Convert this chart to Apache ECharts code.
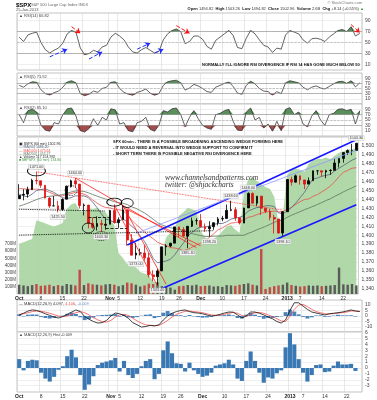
<!DOCTYPE html>
<html>
<head>
<meta charset="utf-8">
<script src="https://cdn.jsdelivr.net/npm/echarts@6/dist/echarts.min.js"></script>
<style>
html, body { margin: 0; padding: 0; background: #fff; }
#chart { width: 377px; height: 400px; }
</style>
</head>
<body>
<div id="chart"></div>
<script>
// trading days, 1 Oct 2012 .. 25 Jan 2013 (one point per session)
const dates = ['10/1','10/2','10/3','10/4','10/5','10/8','10/9','10/10','10/11','10/12',
  '10/15','10/16','10/17','10/18','10/19','10/22','10/23','10/24','10/25','10/26',
  '10/31','11/1','11/2','11/5','11/6','11/7','11/8','11/9','11/12','11/13',
  '11/14','11/15','11/16','11/19','11/20','11/21','11/23','11/26','11/27','11/28',
  '11/29','11/30','12/3','12/4','12/5','12/6','12/7','12/10','12/11','12/12',
  '12/13','12/14','12/17','12/18','12/19','12/20','12/21','12/24','12/26','12/27',
  '12/28','12/31','1/2','1/3','1/4','1/7','1/8','1/9','1/10','1/11',
  '1/14','1/15','1/16','1/17','1/18','1/22','1/23','1/24','1/25'];

const tickIdx  = [0, 5, 10, 15, 21, 23, 28, 33, 37, 42, 47, 52, 57, 62, 65, 70, 75];
const tickText = ['Oct','8','15','22','Nov','5','12','19','26','Dec','10','17','24','2013','7','14','22'];

const open = [1440.9,1445.0,1446.0,1451.1,1461.4,1460.9,1455.9,1441.5,1432.8,1432.8,
  1428.8,1440.3,1454.2,1460.9,1457.2,1433.2,1433.7,1413.2,1409.7,1413.0,
  1411.0,1412.2,1427.6,1414.0,1417.3,1428.3,1394.5,1377.6,1379.9,1380.0,
  1374.6,1355.4,1353.4,1359.9,1386.8,1387.8,1391.0,1409.2,1406.3,1398.8,
  1410.0,1416.2,1416.3,1409.5,1407.1,1409.4,1414.0,1418.1,1418.6,1427.8,
  1428.5,1419.5,1413.5,1430.5,1446.8,1435.8,1443.7,1430.2,1426.7,1419.8,
  1418.1,1402.4,1426.2,1462.4,1459.4,1466.5,1461.9,1457.2,1461.0,1472.1,
  1472.1,1470.7,1472.3,1472.6,1481.0,1486.0,1492.6,1494.8,1494.8];
const close = [1444.5,1445.8,1451.0,1461.4,1460.9,1455.9,1441.5,1432.6,1432.8,1428.6,
  1440.1,1454.9,1460.9,1457.3,1433.2,1433.8,1413.1,1408.8,1413.0,1411.9,
  1412.2,1427.6,1414.2,1417.3,1428.4,1394.5,1377.5,1379.9,1380.0,1374.5,
  1355.5,1353.3,1359.9,1386.9,1387.8,1391.0,1409.2,1406.3,1398.9,1409.9,
  1416.0,1416.2,1409.5,1407.1,1409.3,1413.9,1418.1,1418.6,1427.8,1428.5,
  1419.5,1413.6,1430.4,1446.8,1435.8,1443.7,1430.2,1426.7,1419.8,1418.1,
  1402.4,1426.2,1462.4,1459.4,1466.5,1461.9,1457.2,1461.0,1472.1,1472.1,
  1470.7,1472.3,1472.6,1480.9,1486.0,1492.6,1494.8,1494.8,1503.0];
const low = [1440.9,1439.0,1442.0,1451.0,1456.9,1453.1,1441.2,1430.6,1432.8,1425.5,
  1427.2,1440.3,1453.4,1452.6,1429.9,1422.1,1407.6,1407.1,1405.1,1403.3,
  1406.0,1412.2,1412.9,1408.1,1417.3,1388.1,1377.5,1373.0,1377.2,1371.4,
  1352.5,1348.1,1343.4,1359.9,1377.0,1386.4,1391.0,1397.7,1398.0,1385.4,
  1409.0,1411.6,1408.5,1403.7,1398.2,1405.9,1410.9,1415.6,1418.6,1426.8,
  1416.0,1411.9,1413.5,1430.5,1435.8,1432.8,1422.6,1424.7,1416.4,1401.8,
  1401.6,1398.1,1426.2,1455.5,1459.0,1456.6,1451.6,1457.2,1461.0,1467.6,
  1465.7,1463.8,1467.6,1472.6,1475.8,1481.2,1489.9,1489.5,1494.8];
const high = [1457.1,1451.5,1454.3,1463.1,1471.0,1460.9,1455.9,1442.5,1443.9,1438.4,
  1441.3,1455.5,1462.2,1464.0,1457.2,1435.5,1433.7,1420.0,1421.1,1417.1,
  1418.8,1428.4,1434.3,1419.9,1433.4,1428.3,1401.2,1391.4,1384.9,1388.8,
  1380.1,1360.6,1362.0,1386.9,1389.8,1391.3,1409.2,1409.2,1409.0,1410.0,
  1419.7,1418.9,1423.7,1413.1,1415.6,1414.0,1420.3,1421.6,1434.3,1438.6,
  1431.4,1419.5,1430.7,1448.0,1447.8,1443.7,1443.7,1430.2,1429.4,1422.8,
  1418.1,1426.7,1462.4,1465.5,1467.9,1466.5,1461.9,1464.7,1472.3,1472.8,
  1472.1,1473.3,1474.0,1485.2,1486.0,1492.6,1496.1,1502.3,1503.3];

const ma50 = [1446,1444,1443,1446,1450,1451,1452,1450,1448,1445,
  1442,1441,1442,1444,1444,1444,1442,1437,1431,1424,
  1418,1417,1414,1415,1418,1415,1410,1406,1399,1393,
  1384,1374,1369,1370,1371,1373,1378,1385,1391,1399,
  1403,1407,1409,1409,1410,1412,1413,1413,1415,1418,
  1419,1420,1422,1427,1429,1431,1431,1433,1433,1432,
  1425,1424,1427,1431,1436,1442,1448,1456,1463,1464,
  1466,1467,1468,1472,1475,1478,1481,1484,1486.2];
const ma100 = [1452,1452,1451.5,1451.5,1451.5,1451,1450,1448,1446,1444,
  1444,1445.5,1446.5,1448,1447,1446,1443.5,1439.5,1436,1433,
  1431,1430.5,1429,1428.5,1427.5,1423,1417,1412,1408,1403.5,
  1399.5,1396,1392,1390,1388.5,1386,1385.5,1384.5,1382.5,1384,
  1386.5,1389,1391,1393.5,1397.5,1401.5,1406,1408,1411,1413.5,
  1414,1415,1417,1420,1421,1423,1424.5,1426,1426.5,1427,
  1426,1426.5,1429,1431,1434.5,1437.5,1440,1440.5,1443.5,1445.5,
  1448.5,1451.5,1455,1460,1465.5,1470.5,1472.5,1475,1475.6];
const ma200 = [1432.5,1434,1435.8,1437.8,1439.8,1441.5,1443,1443.5,1444,1444.5,
  1445.5,1446.8,1448.3,1449.5,1449.5,1449,1447.5,1445.5,1443.8,1442,
  1440.5,1439.3,1437.5,1436.3,1435.8,1434.3,1431.8,1430,1427.5,1424.8,
  1421.5,1417.8,1414,1411.5,1409.8,1408.3,1407.3,1406.5,1405,1403.5,
  1401.8,1400.5,1399.5,1398.5,1398.5,1398.8,1399,1399,1399.8,1399.8,
  1399.8,1399.8,1399.8,1402,1403.8,1406,1407.8,1409.8,1412,1414.3,
  1416,1417.3,1420,1422.3,1424.3,1426.3,1428.5,1430.3,1432.3,1434.3,
  1436.5,1438.8,1440.8,1443.5,1445.8,1448.5,1450.8,1453,1455.3];

// green overlay behind price (own hidden scale, 0..100)
const breadth = [32,33,34,35,47,46,45,44,43,44,
  45,54,57,58,53,52,55,54,55,53,
  52,48,44,26,23,19,18,17,14,13,
  12,8,7,26,36,39,42,50,52,55,
  54,53,40,36,34,35,37,40,43,44,
  41,39,65,73,74,72,70,68,67,62,
  45,50,76,79,80,79,78,83,85,86,
  86,87,86,88,90,91,92,92,93];

// volume, millions
const volume = [130,120,110,125,140,115,120,130,110,125,
  115,140,130,120,340,125,150,135,130,120,
  135,140,130,110,125,160,150,130,105,120,
  145,140,165,110,105,90,60,110,115,125,
  120,130,110,115,120,105,110,100,125,120,
  115,130,140,150,130,120,630,70,95,110,
  120,130,160,125,115,105,110,120,115,120,
  110,115,120,125,370,135,130,140,120];

const rsi14 = [60,52,64,67,69,50,37,31,36,40,
  49,66,72,69,40,28,30,36,33,42,
  45,60,67,62,55,42,33,31,37,41,
  36,31,34,55,66,72,75,70,48,52,
  62,62,56,43,38,54,60,66,72,63,
  41,39,58,72,66,55,45,42,32,40,
  38,64,72,69,66,55,49,57,58,56,
  52,60,66,72,74,70,79,62,66.8];
const rsi5 = [62,55,68,76,74,45,30,25,34,40,
  55,75,80,72,30,22,28,40,35,50,
  55,74,76,50,35,28,24,35,40,48,
  32,24,30,62,76,80,82,72,44,52,
  66,60,50,38,35,55,62,70,75,58,
  32,28,62,78,68,50,40,38,25,38,
  30,72,80,76,72,55,45,55,60,52,
  48,58,68,76,78,70,80,56,71.9];
const rsi2 = [70,40,85,90,80,30,12,8,40,35,
  70,92,95,65,10,5,18,55,30,60,
  50,92,88,35,40,10,6,40,45,60,
  15,8,30,85,80,92,95,70,25,60,
  85,55,30,20,15,70,75,85,90,45,
  12,10,80,95,50,60,20,35,8,45,
  10,90,96,70,80,35,25,65,85,50,
  30,70,75,90,92,85,90,35,85.1];

const macd = [0.9,2.5,4.5,5.5,5,3.6,2,0.5,-1,-1.8,
  -0.5,1.5,3.5,5.5,4,-0.5,-3,-5,-6.4,-6,
  -4,0,2.7,2,0.5,-2,-6,-8,-10,-9.5,
  -8.5,-9,-8,-3.6,0,2.5,4,5,5.5,4,
  3,2.7,2,0.9,0,0.5,1.5,2.7,3.6,3.5,
  1,-1.8,0,3.6,3.6,2.5,1,-1,-2.5,-5,
  -6.4,-3.6,5,12,12,9,6,3.6,2.7,1.8,
  0.9,2,2.5,3,3.6,4.5,5.5,4.5,4.097];
const signal = [1.5,2,3,4,4.5,4.3,3.5,2.5,1.2,0,
  -0.5,0,1.5,3,4,3,1,-1.5,-3.5,-5,
  -5.5,-4,-1,1,1.5,0.5,-2,-4.5,-6.5,-8,
  -8.5,-8.7,-8.5,-6.5,-4,-1,1.5,3,4.2,4.5,
  4,3.5,3,2,1,0.6,0.8,1.5,2.5,3.2,
  2.5,0.5,-0.5,1.5,3,3.2,2.5,1,-0.5,-2.5,
  -4.5,-5,-0.5,6,10,10.5,8.5,6,4,3,
  2,1.8,2.2,2.6,3,3.6,4.5,4.6,4.106];
const hist = [1.5,-0.4,1.2,1.4,1.3,-0.8,-1.8,-2.3,-1.5,-0.3,
  0.3,2.0,3.1,1.8,-1.2,-3.7,-2.8,-1.4,0.5,0.9,
  1.1,1.3,1.7,-0.6,1.2,-1.2,-1.7,-1.0,0.3,1.2,
  1.5,-1.9,-1.0,3.0,4.5,2.5,0.8,0.7,-0.6,0.9,
  -0.4,-1.0,-1.5,-1.3,-0.8,0.4,0.6,0.8,1.4,0.6,
  -1.8,-2.2,1.2,2.8,1.2,-0.8,-2.5,-1.6,-1.8,-0.9,
  -0.4,3.5,5.9,4.0,1.5,-0.8,-2.3,-1.2,0.5,0.6,
  -0.7,-0.6,0.4,1.1,0.6,0.6,0.7,-0.5,-0.009];

const rsiTicks = [10, 30, 50, 70, 90];
const priceTicks = [1340,1350,1360,1370,1380,1390,1400,1410,1420,1430,1440,1450,1460,1470,1480,1490,1500];
const volTicks = [100, 200, 300, 400, 500, 600, 700];
const macdTicks = [-10, -5, 0, 5, 10];
const histTicks = [-3, -2, -1, 0, 1, 2, 3, 4, 5, 6];

const FONT = '"Liberation Sans", Arial, sans-serif';
const chart = echarts.init(document.getElementById('chart'));

const L = 17, W = 345;
const grids = [
  { top: 13, height: 57 },
  { top: 73, height: 31 },
  { top: 104, height: 32 },
  { top: 137, height: 157 },
  { top: 300, height: 32 },
  { top: 332, height: 60 }
].map(g => Object.assign({ left: L, width: W, show: true, backgroundColor: '#fff', borderColor: '#9a9a9a', borderWidth: 0.6 }, g));

const isWeek = idx => tickIdx.indexOf(idx) >= 0;
const xAxes = grids.map((g, i) => ({
  type: 'category', gridIndex: i, data: dates, boundaryGap: true,
  axisLine: { show: false }, axisTick: { show: false },
  axisLabel: {
    show: i === 3 || i === 5, interval: isWeek, margin: 2, fontSize: 5, color: '#333', fontFamily: FONT,
    formatter: (v, idx) => {
      const k = tickIdx.indexOf(idx);
      if (k < 0) return '';
      const t = tickText[k];
      return /[a-z]|2013/i.test(t) ? '{b|' + t + '}' : t;
    },
    rich: { b: { fontWeight: 'bold', fontSize: 5, fontFamily: FONT, color: '#222' } }
  },
  splitLine: { show: true, interval: isWeek, lineStyle: { color: '#d8d8d8', width: 0.6 } }
}));

function yAx(grid, min, max, ticks, extra) {
  return Object.assign({
    type: 'value', gridIndex: grid, min: min, max: max, position: 'right',
    axisLine: { show: false },
    axisTick: { show: false, customValues: ticks },
    axisLabel: { customValues: ticks, fontSize: 5, color: '#444', margin: 3, fontFamily: FONT },
    splitLine: { show: true, lineStyle: { color: '#e4e4e4', width: 0.6 } }
  }, extra || {});
}

const base = { type: 'line', showSymbol: false, silent: true, animation: false };

function rsiSeries(ax, vals, extraLines) {
  const refLines = [
    { yAxis: 70, lineStyle: { color: '#8c8c8c', width: 0.6, type: 'solid' } },
    { yAxis: 30, lineStyle: { color: '#8c8c8c', width: 0.6, type: 'solid' } },
    { yAxis: 50, lineStyle: { color: '#a8a8a8', width: 0.6, type: 'dashed' } }
  ];
  return [
    Object.assign({}, base, { xAxisIndex: ax, yAxisIndex: ax, z: 2,
      data: vals.map(v => Math.max(v, 70)), lineStyle: { width: 0 },
      areaStyle: { origin: 70, color: '#5a8e5a', opacity: 1 } }),
    Object.assign({}, base, { xAxisIndex: ax, yAxisIndex: ax, z: 2,
      data: vals.map(v => Math.min(v, 30)), lineStyle: { width: 0 },
      areaStyle: { origin: 30, color: '#a44c4c', opacity: 1 } }),
    Object.assign({}, base, { xAxisIndex: ax, yAxisIndex: ax, z: 3,
      data: vals, lineStyle: { color: '#3a3a3a', width: 0.8 },
      markLine: { silent: true, symbol: 'none', label: { show: false }, animation: false,
        data: refLines.concat(extraLines || []) } })
  ];
}

function arrow(a, b, color) {
  return [
    { coord: a, symbol: 'none', lineStyle: { color: color, width: 1, type: 'dashed' } },
    { coord: b, symbol: 'arrow', symbolSize: 5 }
  ];
}
function seg(a, b, color, width, type) {
  return [{ coord: a, lineStyle: { color: color, width: width, type: type } }, { coord: b }];
}

const rsiArrows = [
  arrow([7, 24], [11, 38], '#1f2bff'),
  arrow([16, 20], [19, 33], '#1f2bff'),
  arrow([27, 38], [30, 49], '#1f2bff'),
  arrow([31, 31], [33, 38], '#1f2bff'),
  arrow([12, 79], [14, 67], '#ff1010'),
  arrow([36, 81], [39, 67], '#ff1010'),
  arrow([76, 83], [78, 68], '#ff1010')
];

const priceLines = [
  seg([4, 1471], [61, 1428], '#ff2020', 0.8, 'dotted'),
  seg([13, 1464], [41, 1386], '#ff2020', 0.8, 'solid'),
  seg([22, 1434], [32, 1343], '#ff2020', 0.8, 'solid'),
  seg([24, 1433], [34, 1345], '#ff2020', 0.8, 'solid'),
  seg([24, 1431], [42, 1388], '#ff2020', 0.8, 'solid'),
  seg([25, 1389], [78, 1507], '#1818ff', 1.6, 'solid'),
  seg([32, 1338], [78, 1434], '#1818ff', 1.6, 'solid'),
  seg([27, 1402], [78, 1495], '#8f98ff', 0.8, 'solid'),
  seg([0, 1429], [20, 1427], '#000', 0.9, 'dotted'),
  seg([0, 1400], [45, 1405], '#000', 0.9, 'dotted'),
  seg([16, 1420], [21, 1420], '#000', 0.8, 'dashed'),
  seg([20, 1408], [25, 1408], '#000', 0.8, 'dashed')
];

function ellipse(c, size, dashed) {
  return { coord: c, symbol: 'circle', symbolSize: size, label: { show: false },
    itemStyle: { color: 'rgba(0,0,0,0)', borderColor: '#000', borderWidth: 0.8, borderType: dashed ? 'dotted' : 'solid' } };
}
function tag(i, v, pos) {
  return { coord: [i, v], value: v.toFixed(2), symbol: 'rect', symbolSize: 1,
    itemStyle: { color: 'rgba(0,0,0,0)' },
    label: { show: true, position: pos, distance: 2, formatter: '{c}', fontSize: 3.8, fontFamily: FONT, color: '#444',
      backgroundColor: '#f4f4f4', borderColor: '#bbb', borderWidth: 0.4, padding: [0.3, 0.8] } };
}
const pricePoints = [
  ellipse([4, 1472], [18, 10]), ellipse([12, 1450], [12, 10], true),
  ellipse([22, 1437], [15, 8]), ellipse([25, 1436], [12, 9]),
  ellipse([16, 1408], [12, 10]), ellipse([19, 1399], [14, 9], true),
  tag(4, high[4], 'top'), tag(13, high[13], 'top'), tag(9, low[9], 'bottom'),
  tag(19, low[19], 'bottom'), tag(27, low[27], 'bottom'), tag(32, low[32], 'bottom'),
  tag(39, low[39], 'bottom'), tag(44, low[44], 'bottom'), tag(49, high[49], 'top'),
  tag(53, high[53], 'top'), tag(61, low[61], 'bottom'), tag(78, high[78], 'top')
];

const series = []
  .concat(rsiSeries(0, rsi14, rsiArrows))
  .concat(rsiSeries(1, rsi5))
  .concat(rsiSeries(2, rsi2))
  .concat([
    Object.assign({}, base, { xAxisIndex: 3, yAxisIndex: 5, z: 1, data: breadth,
      lineStyle: { width: 0 }, areaStyle: { color: '#a9d4a0', opacity: 0.9 } }),
    { type: 'bar', xAxisIndex: 3, yAxisIndex: 4, data: volume, barWidth: 2.4, silent: true, z: 2,
      itemStyle: { color: p => close[p.dataIndex] >= open[p.dataIndex] ? '#5a5a5a' : '#c24a4a' } },
    Object.assign({}, base, { xAxisIndex: 3, yAxisIndex: 3, z: 3, data: ma200, lineStyle: { color: '#5f7560', width: 0.8 } }),
    Object.assign({}, base, { xAxisIndex: 3, yAxisIndex: 3, z: 3, data: ma100, lineStyle: { color: '#e8504a', width: 0.8 } }),
    Object.assign({}, base, { xAxisIndex: 3, yAxisIndex: 3, z: 3, data: ma50, lineStyle: { color: '#56627e', width: 0.8 } }),
    { type: 'candlestick', xAxisIndex: 3, yAxisIndex: 3, z: 4, silent: true, barWidth: 2.2,
      data: open.map((o, i) => [o, close[i], low[i], high[i]]),
      itemStyle: { color: '#000', color0: '#e01414', borderColor: '#000', borderColor0: '#e01414', borderWidth: 0.8 },
      markLine: { silent: true, symbol: 'none', label: { show: false }, animation: false, data: priceLines },
      markPoint: { silent: true, animation: false, data: pricePoints } },
    { type: 'bar', xAxisIndex: 4, yAxisIndex: 6, data: hist, barCategoryGap: '10%', silent: true, z: 2, itemStyle: { color: '#4a82bb' } },
    Object.assign({}, base, { xAxisIndex: 4, yAxisIndex: 6, z: 3, data: signal, lineStyle: { color: '#f05050', width: 0.8 } }),
    Object.assign({}, base, { xAxisIndex: 4, yAxisIndex: 6, z: 4, data: macd, lineStyle: { color: '#111', width: 0.8 } }),
    { type: 'bar', xAxisIndex: 5, yAxisIndex: 7, data: hist, barCategoryGap: '6%', silent: true, itemStyle: { color: '#3a78b3' } }
  ]);

function txt(x, y, text, size, fill, extra) {
  return { type: 'text', x: x, y: y, silent: true, z: 100,
    style: Object.assign({ text: text, fontSize: size, fontFamily: FONT, fill: fill, verticalAlign: 'middle', align: 'left' }, extra || {}) };
}
const bold = { fontWeight: 'bold' };
const graphics = [
  txt(16, 5, '$SPX', 6, '#000', bold),
  txt(31, 5, 'S&P 500 Large Cap Index INDX', 4, '#666'),
  txt(16, 9.5, '25-Jan-2013', 4, '#555'),
  txt(362, 3, '\u00a9 StockCharts.com', 4, '#777', { align: 'right' }),
  txt(364, 9, '{b|Open} 1494.82  {b|High} 1503.26  {b|Low} 1494.82  {b|Close} 1502.96  {b|Volume} 2.6B  {b|Chg} +8.14 (+0.55%) {g|\u25b2}', 4, '#333',
    { align: 'right', rich: { b: { fontWeight: 'bold', fontSize: 4, fontFamily: FONT, fill: '#111' }, g: { fontSize: 4, fill: '#2a9a2a' } } }),
  txt(19, 16, '\u25b2 RSI(14) 66.82', 4, '#444'),
  txt(19, 76.5, '\u25b2 RSI(5) 71.92', 4, '#444'),
  txt(19, 107.5, '\u25b2 RSI(2) 85.10', 4, '#444'),
  txt(202, 65, "NORMALLY I'LL IGNORE RSI DIVERGENCE IF RSI 14 HAS GONE MUCH BELOW 50", 4, '#111', bold),
  txt(19, 144, '\u25a3 $SPX (60 min) 1502.96', 3.5, '#222'),
  txt(19, 147.3, '\u2014 MA(50) 1486.20', 3.5, '#56627e'),
  txt(19, 150.6, '\u2014 MA(100) 1475.64', 3.5, '#e8504a'),
  txt(19, 153.9, '\u2014 MA(200) 1455.27', 3.5, '#5f7560'),
  txt(19, 157.2, '\u25b2 Volume 117,154,992', 3.5, '#333'),
  txt(19, 160.5, '\u25a0 $BPSPX (60 min) 134.80', 3.5, '#4c9a4c'),
  txt(113, 142, 'SPX 60min - THERE IS A POSSIBLE BROADENING ASCENDING WEDGE FORMING HERE', 4, '#111', bold),
  txt(113, 148, '- IT WOULD NEED A REVERSAL INTO WEDGE SUPPORT TO CONFIRM IT', 4, '#111', bold),
  txt(113, 154, '- SHORT TERM THERE IS POSSIBLE NEGATIVE RSI DIVERGENCE HERE', 4, '#111', bold),
  txt(165, 178, 'www.channelsandpatterns.com', 7.5, '#333', { fontStyle: 'italic', fontFamily: '"Liberation Serif", serif' }),
  txt(165, 185.5, 'twitter: @shjackcharts', 7.5, '#333', { fontStyle: 'italic', fontFamily: '"Liberation Serif", serif' }),
  txt(19, 303.5, '\u2014 MACD(12,26,9) 4.097, {r|4.106}, {u|-0.009}', 4, '#333',
    { rich: { r: { fill: '#e8504a', fontSize: 4, fontFamily: FONT }, u: { fill: '#6a8cc8', fontSize: 4, fontFamily: FONT } } }),
  txt(19, 334.5, '\u25b2 MACD(12,26,9) Hist -0.009', 4, '#444')
];

chart.setOption({
  animation: false,
  backgroundColor: '#fff',
  textStyle: { fontFamily: FONT },
  grid: grids,
  xAxis: xAxes,
  yAxis: [
    yAx(0, 0, 104, rsiTicks),
    yAx(1, -10, 110, rsiTicks),
    yAx(2, -10, 110, rsiTicks),
    yAx(3, 1334, 1510, priceTicks),
    { type: 'value', gridIndex: 3, min: 0, max: 2200, position: 'left',
      axisLine: { show: false }, axisTick: { show: false, customValues: volTicks }, splitLine: { show: false },
      axisLabel: { customValues: volTicks, formatter: v => v + 'M', fontSize: 4.5, color: '#444', margin: 1, fontFamily: FONT } },
    { type: 'value', gridIndex: 3, min: 0, max: 100, show: false },
    yAx(4, -14.5, 14.5, macdTicks),
    yAx(5, -4.07, 6.1, histTicks)
  ],
  series: series,
  graphic: graphics
});
</script>
</body>
</html>
